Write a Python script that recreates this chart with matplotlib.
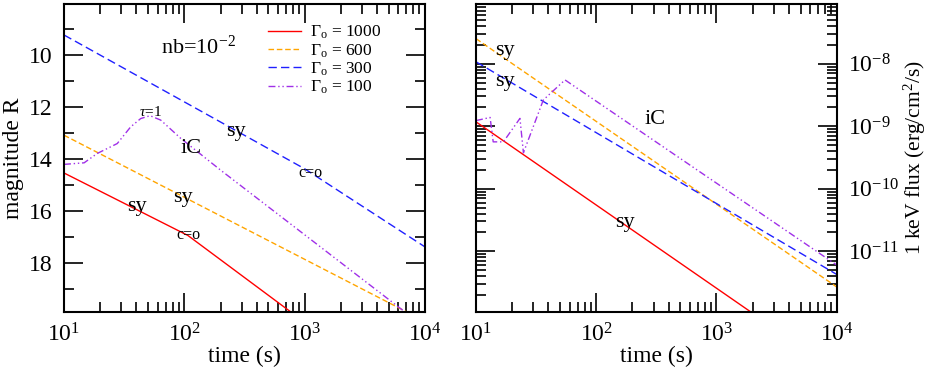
import numpy as np
import matplotlib
matplotlib.use('Agg')
import matplotlib.pyplot as plt
from matplotlib.ticker import LogLocator, MultipleLocator, NullFormatter, FixedLocator

plt.rcParams['font.family'] = ['Liberation Serif', 'DejaVu Serif']
plt.rcParams['mathtext.fontset'] = 'custom'
plt.rcParams['mathtext.rm'] = 'Liberation Serif'
plt.rcParams['mathtext.it'] = 'Liberation Serif:italic'
plt.rcParams['mathtext.bf'] = 'Liberation Serif:bold'

# ---- left panel: optical magnitude R vs time ----
t_opt_1000 = [10, 107, 1e4]
mag_1000 = [14.53, 16.93, 23.7]
t_opt_600 = [10, 1e4]
mag_600 = [13.08, 20.23]
t_opt_300 = [10, 1000, 1e4]
mag_300 = [9.23, 14.37, 17.37]
t_opt_100 = [10, 14.7, 18.9, 22.9, 27.7, 35.8, 43.4, 51.9, 63.7, 93.3, 200, 1e4]
mag_100 = [14.2, 14.14, 13.78, 13.59, 13.4, 12.76, 12.44, 12.33, 12.5, 13.2, 14.42, 20.46]

# ---- right panel: 1 keV flux vs time ----
t_x_1000 = [10, 1e4]
flux_1000 = [10**-8.93, 10**-12.92]
t_x_600 = [10, 1e4]
flux_600 = [10**-7.60, 10**-11.57]
t_x_300 = [10, 1e4]
flux_300 = [10**-7.97, 10**-11.37]
t_x_100 = [10, 13.1, 13.9, 16.9, 23.2, 24.8, 36.3, 55, 1e4]
flux_100 = [10**-8.91, 10**-8.86, 10**-9.25, 10**-9.25, 10**-8.875,
            10**-9.425, 10**-8.58, 10**-8.26, 10**-11.22]

gammas = ['1000', '600', '300', '100']
colors = ['#ff0000', '#ffa500', '#2020ff', '#a030e8']
styles = ['-', (0, (4, 2)), (0, (6, 3)), (0, (5, 2, 1, 2, 1, 2))]

fig = plt.figure(figsize=(9.26, 3.82), dpi=100)
ax1 = fig.add_axes([64 / 926, 70 / 382, 361 / 926, 308 / 382])
ax2 = fig.add_axes([476 / 926, 70 / 382, 360.7 / 926, 308 / 382])

opt = [(t_opt_1000, mag_1000), (t_opt_600, mag_600),
       (t_opt_300, mag_300), (t_opt_100, mag_100)]
xr = [(t_x_1000, flux_1000), (t_x_600, flux_600),
      (t_x_300, flux_300), (t_x_100, flux_100)]

for (t, m), g, c, ls in zip(opt, gammas, colors, styles):
    ax1.plot(t, m, color=c, linestyle=ls, linewidth=1.0,
             label=r'$\Gamma_{\rm o}$ = ' + g)
for (t, f), c, ls in zip(xr, colors, styles):
    ax2.plot(t, f, color=c, linestyle=ls, linewidth=1.0)

for ax in (ax1, ax2):
    ax.set_xscale('log')
    ax.set_xlim(10, 1e4)
    ax.set_xlabel('time (s)', fontsize=17, labelpad=0)
    ax.tick_params(which='both', direction='in', top=True, bottom=True,
                   left=True, right=True, labelsize=17, width=1.2)
    ax.tick_params(which='major', length=14, pad=8)
    ax.tick_params(which='minor', length=7)
    ax.xaxis.set_minor_formatter(NullFormatter())
    for sp in ax.spines.values():
        sp.set_linewidth(1.5)

# left axis
ax1.set_ylim(19.87, 8.04)
ax1.yaxis.set_major_locator(MultipleLocator(2))
ax1.yaxis.set_minor_locator(MultipleLocator(1))
ax1.set_ylabel('magnitude R', fontsize=17, labelpad=4)

ax1.legend(loc='upper left', bbox_to_anchor=(0.565, 0.935), frameon=False,
           fontsize=12.5, handlelength=1.9, handletextpad=0.5,
           labelspacing=0.05, borderpad=0, borderaxespad=0)

ax1.text(132, 9.69, 'nb=10$^{-2}$', fontsize=16, ha='center', va='center')
ax1.text(52, 12.19, r'$\tau$=1', fontsize=11, ha='center', va='center')
ax1.text(114, 13.58, 'iC', fontsize=16, ha='center', va='center')
ax1.text(269, 12.92, 'sy', fontsize=16, ha='center', va='center')
ax1.text(1109, 14.54, 'c=o', fontsize=11.5, ha='center', va='center')
ax1.text(97.5, 15.46, 'sy', fontsize=16, ha='center', va='center')
ax1.text(40.5, 15.81, 'sy', fontsize=16, ha='center', va='center')
ax1.text(109, 16.92, 'c=o', fontsize=11.5, ha='center', va='center')

# right axis
ax2.set_yscale('log')
ax2.set_ylim(1.07e-12, 9.0e-8)
ax2.yaxis.set_major_locator(FixedLocator([1e-11, 1e-10, 1e-9, 1e-8]))
ax2.yaxis.set_minor_locator(LogLocator(base=10, subs=np.arange(2, 10), numticks=20))
ax2.yaxis.set_minor_formatter(NullFormatter())
ax2.tick_params(axis='y', which='both', labelleft=False, labelright=True)
ax2.yaxis.set_label_position('right')
ax2.set_ylabel('1 keV flux (erg/cm$^2$/s)', fontsize=15.5, labelpad=2)

ax2.text(17.4, 1.64e-8, 'sy', fontsize=16, ha='center', va='center')
ax2.text(17.4, 5.25e-9, 'sy', fontsize=16, ha='center', va='center')
ax2.text(308, 1.26e-9, 'iC', fontsize=16, ha='center', va='center')
ax2.text(174, 2.94e-11, 'sy', fontsize=16, ha='center', va='center')

fig.savefig('out.png', dpi=100)
